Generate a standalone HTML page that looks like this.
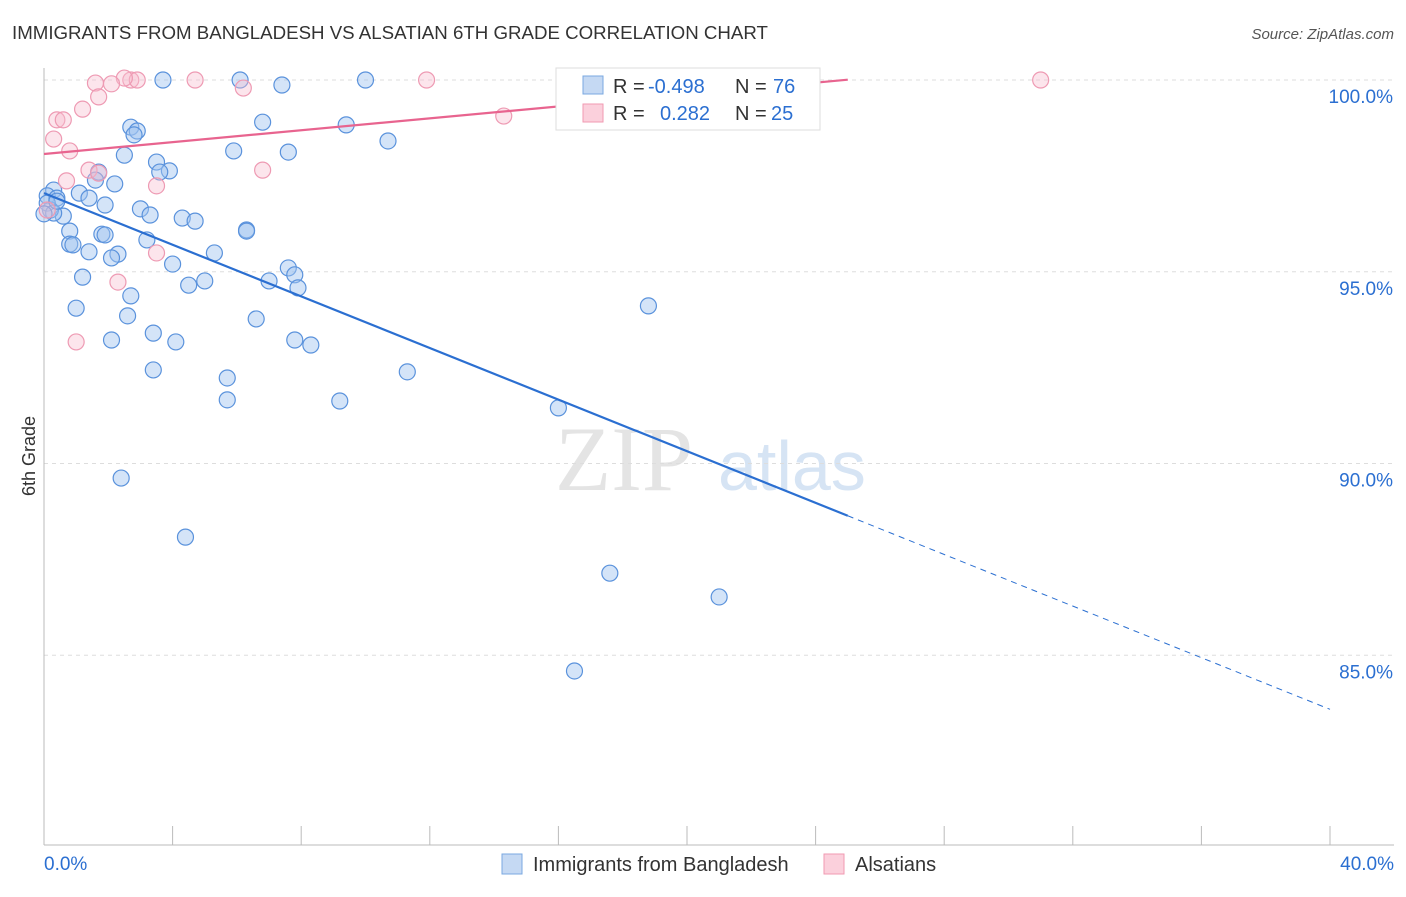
<!DOCTYPE html>
<html><head><meta charset="utf-8"><style>
body{margin:0;background:#fff;font-family:"Liberation Sans",sans-serif;}
#wrap{position:relative;width:1406px;height:892px;}
</style></head><body><div id="wrap">
<svg id="svg" width="1406" height="892" xmlns="http://www.w3.org/2000/svg">
<text x="12" y="39" font-size="18.7" fill="#333">IMMIGRANTS FROM BANGLADESH VS ALSATIAN 6TH GRADE CORRELATION CHART</text>
<text x="1394" y="39" font-size="15" fill="#555" font-style="italic" text-anchor="end">Source: ZipAtlas.com</text>
<text x="35" y="456" font-size="18" fill="#333" transform="rotate(-90 35 456)" text-anchor="middle">6th Grade</text>
<text x="555" y="490" font-size="92" fill="#e4e4e4" font-family="Liberation Serif">ZIP</text>
<text x="718" y="490" font-size="70" fill="#d6e4f4">atlas</text>
<g id="grid"></g><g id="axes"></g><g id="pts"></g><g id="lines"></g>
<g>
<rect x="556" y="68" width="264" height="62" fill="#fff" stroke="#ddd"/>
<rect x="583" y="76" width="20" height="18" fill="#c5d9f3" stroke="#7aa8e0"/>
<rect x="583" y="104" width="20" height="18" fill="#fbd0dc" stroke="#f09ab2"/>
<text x="613" y="93" font-size="20" fill="#333">R = <tspan x="648" fill="#2b6fd1">-0.498</tspan><tspan x="735">N = </tspan><tspan x="773" fill="#2b6fd1">76</tspan></text>
<text x="613" y="120" font-size="20" fill="#333">R = <tspan x="660" fill="#2b6fd1">0.282</tspan><tspan x="735">N = </tspan><tspan x="771" fill="#2b6fd1">25</tspan></text>
</g>
<g>
<rect x="502" y="854" width="20" height="20" fill="#c5d9f3" stroke="#7aa8e0"/>
<text x="533" y="871" font-size="20" fill="#333">Immigrants from Bangladesh</text>
<rect x="824" y="854" width="20" height="20" fill="#fbd0dc" stroke="#f09ab2"/>
<text x="855" y="871" font-size="20" fill="#333">Alsatians</text>
</g>
</svg>
<script>
const blueX=[3.7,6.1,7.4,10.0,6.8,9.4,10.7,2.7,2.9,2.8,5.9,7.6,2.5,3.5,3.9,3.6,1.7,1.6,2.2,0.3,1.1,0.1,0.4,1.4,1.9,3.0,3.3,0.6,4.3,4.7,6.3,6.3,0.8,1.8,1.9,3.2,0.8,0.9,1.4,5.3,2.3,2.1,4.0,7.6,7.8,7.0,5.0,4.5,7.9,1.2,2.7,1.0,18.8,2.6,6.6,3.4,2.1,4.1,7.8,8.3,3.4,11.3,5.7,5.7,9.2,16.0,2.4,4.4,17.6,21.0,16.5,0.2,0.1,0.3,0.4,0.0];
const blueY=[100,100,99.87,100,98.9,98.83,98.41,98.77,98.67,98.57,98.15,98.12,98.04,97.86,97.63,97.6,97.6,97.39,97.29,97.13,97.05,96.98,96.92,96.92,96.74,96.64,96.48,96.45,96.4,96.32,96.09,96.06,96.06,95.98,95.96,95.83,95.72,95.7,95.52,95.49,95.46,95.36,95.2,95.1,94.92,94.76,94.76,94.65,94.58,94.86,94.37,94.05,94.11,93.85,93.77,93.4,93.22,93.17,93.22,93.09,92.44,92.39,92.23,91.66,91.63,91.45,89.62,88.08,87.14,86.52,84.59,96.61,96.79,96.53,96.84,96.51];
const pinkX=[31.0,1.6,2.7,2.9,4.7,11.9,2.5,2.1,6.2,1.7,1.2,0.4,0.6,0.3,0.8,14.3,6.8,1.4,1.7,0.7,3.5,2.3,3.5,1.0,0.1];
const pinkY=[100,99.92,100,100,100,100,100.05,99.9,99.79,99.56,99.24,98.96,98.96,98.46,98.15,99.06,97.65,97.65,97.57,97.37,97.24,94.73,95.49,93.17,96.61];
const xTicks=[0,4,8,12,16,20,24,28,32,36,40];
const yTicks=[100,95,90,85];
const X=v=>44+v*32.15, Y=v=>80+(100-v)*38.35;
const NS="http://www.w3.org/2000/svg";
function mk(p,t,a){const e=document.createElementNS(NS,t);for(const k in a)e.setAttribute(k,a[k]);document.getElementById(p).appendChild(e);return e;}
yTicks.forEach(v=>{
 const l=mk('grid','line',{x1:44,x2:1394,y1:Y(v),y2:Y(v),stroke:'#ddd','stroke-dasharray':'4,4'});
 
 
 const t=mk('grid','text',{x:1393,y:Y(v)+23,'font-size':19,fill:'#2b6fd1','text-anchor':'end'});
 t.textContent=v.toFixed(1)+'%';
 
 
});
const ax=mk('axes','line',{x1:44,x2:44,y1:68,y2:845,stroke:'#bbb'});


const bx=mk('axes','line',{x1:44,x2:1394,y1:845,y2:845,stroke:'#bbb'});


xTicks.forEach(v=>{
 const l=mk('axes','line',{x1:X(v),x2:X(v),y1:826,y2:845,stroke:'#bbb'});
 
 
});
[[0,'start'],[40,'end']].forEach(([v,a])=>{
 const t=mk('axes','text',{x:v==0?44:1394,y:870,'font-size':19,fill:'#2b6fd1','text-anchor':a});
 t.textContent=v.toFixed(1)+'%';
 
 
});
blueX.forEach((x,i)=>{
 const c=mk('pts','circle',{cx:X(x),cy:Y(blueY[i]),r:8,fill:'rgba(160,196,240,0.45)',stroke:'#5a92dc','stroke-width':1.2});
 
 
});
pinkX.forEach((x,i)=>{
 const c=mk('pts','circle',{cx:X(x),cy:Y(pinkY[i]),r:8,fill:'rgba(248,190,208,0.4)',stroke:'#ee9ab3','stroke-width':1.2});
 
 
});
const b0=97.05,b1=-0.3365;
const l1=mk('lines','line',{x1:X(0),y1:Y(b0),x2:X(25),y2:Y(b0+b1*25),stroke:'#2b6fd1','stroke-width':2.2});


const l2=mk('lines','line',{x1:X(25),y1:Y(b0+b1*25),x2:X(40),y2:Y(b0+b1*40),stroke:'#2b6fd1','stroke-width':1,'stroke-dasharray':'6,5'});


const p0=98.07,p1=0.0775;
const l3=mk('lines','line',{x1:X(0),y1:Y(p0),x2:X(25),y2:Y(p0+p1*25),stroke:'#e8648f','stroke-width':2.2});


</script></div></body></html>
